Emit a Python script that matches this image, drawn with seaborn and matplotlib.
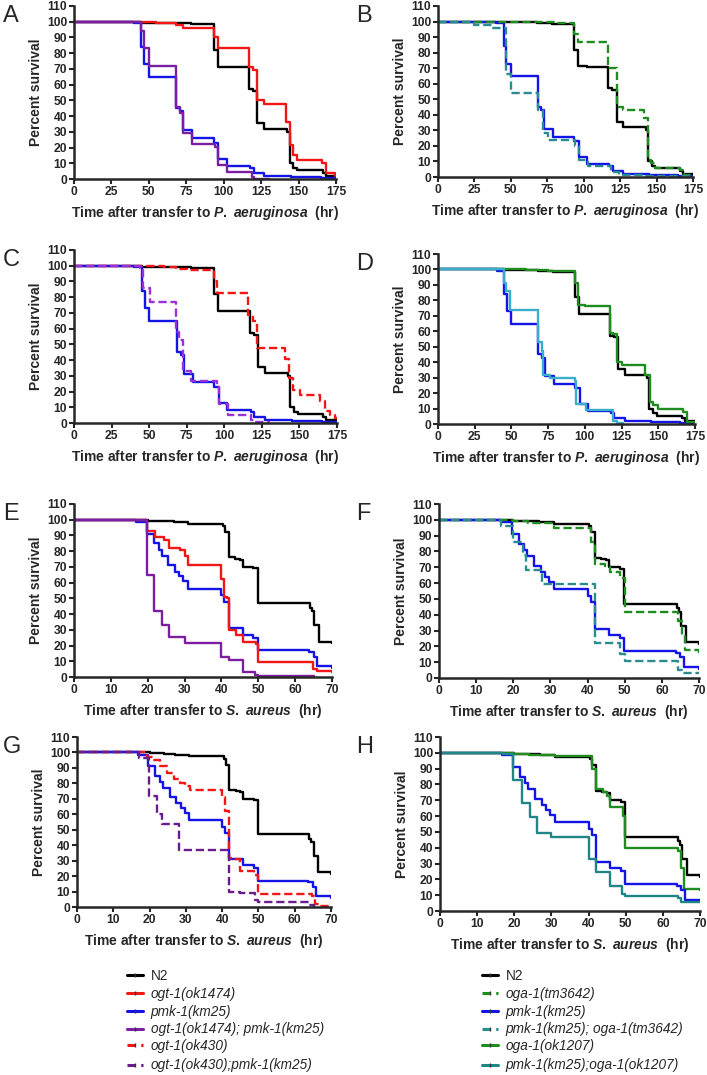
import matplotlib
matplotlib.use("Agg")
import matplotlib.pyplot as plt
import seaborn as sns
from matplotlib.lines import Line2D

# ---- P. aeruginosa survival curves (time in hr, percent survival) ----
n2_pa_t = [0, 45, 68, 78, 93.4, 96, 102, 117, 119.6, 122.5, 127, 142.6, 144, 146.6, 149, 166, 168, 175]
n2_pa_s = [100, 99.5, 99, 98.5, 82, 71.5, 71, 57, 56, 35.5, 32, 30, 10, 7, 5.5, 4, 2, 1]

pmk_pa_t = [0, 40, 45, 47, 50, 68.4, 71, 73, 79, 93.4, 96.5, 102, 117.5, 120, 127, 145, 165, 175]
pmk_pa_s = [100, 99, 84, 73, 65, 45, 43, 31, 26, 23, 13, 8.5, 7, 4, 2, 1, 0.5, 0]

ogt1474_pa_t = [0, 55, 68, 73, 93.4, 96, 117, 119.6, 122, 127, 141.4, 144, 146.6, 149, 165.5, 168, 174, 175]
ogt1474_pa_s = [100, 99.5, 98, 96, 90, 83.5, 71, 69, 50, 48, 36, 21.5, 15, 12, 10, 3.5, 2, 2]

ogt1474_pmk_pa_t = [0, 45, 47, 50, 68, 71, 73, 79, 94, 96, 102, 119, 120.5, 130]
ogt1474_pmk_pa_s = [100, 94, 83, 72, 46, 42, 29, 22, 20.5, 9, 4.5, 1, 0, 0]

ogatm_pa_t = [0, 60, 80, 93.6, 96, 117, 122.5, 127, 141.5, 144, 146, 149, 166, 169, 175]
ogatm_pa_s = [100, 99.5, 99, 92, 87, 70, 45, 43, 38, 11, 9, 6, 4.5, 1, 0.5]

pmk_ogatm_pa_t = [0, 25, 37, 46.5, 50, 68.6, 72, 75.5, 94, 96.5, 103, 119, 124, 142, 175]
pmk_ogatm_pa_s = [100, 97.5, 96, 66, 54, 43, 28, 23.5, 20, 11, 7, 3, 1, 0.5, 0]

ogt430_pa_t = [0, 60, 68, 75, 93, 95, 116, 119, 121.7, 140.6, 142.8, 146, 150.6, 164, 167, 170.5, 174, 175]
ogt430_pa_s = [100, 99.5, 98, 97, 90, 82.5, 68.5, 65, 48, 41, 28.5, 21, 18, 14, 7.5, 5, 3, 3]

ogt430_pmk_pa_t = [0, 44, 46, 50.6, 68, 70, 72.8, 78, 95, 96.8, 102.8, 118, 120.6, 130]
ogt430_pmk_pa_s = [100, 98.5, 86, 77, 58, 53, 33, 26.5, 23, 12, 5.3, 2, 0.5, 0]

ogaok_pa_t = [0, 60, 75, 93.2, 95.5, 100, 117, 119.3, 121.6, 125, 141, 144.3, 146.6, 150, 167, 169.3, 175]
ogaok_pa_s = [100, 99.5, 99, 91, 77, 76.3, 59, 58, 40, 38, 31.5, 14, 12, 10, 8, 1, 0.5]

pmk_ogaok_pa_t = [0, 44.8, 46.6, 49, 68.2, 70.5, 71.6, 76, 93.2, 94.3, 101, 119.3, 121.6, 126]
pmk_ogaok_pa_s = [100, 91, 86, 74, 53, 47, 31.5, 29.5, 28, 13, 9, 2, 0.5, 0]

# ---- S. aureus survival curves ----
n2_sa_t = [0, 20, 24, 27, 31, 40.4, 41, 42, 43.7, 45, 45.8, 48.7, 49.8, 64, 64.6, 65.2, 66.4, 70]
n2_sa_s = [100, 99.5, 99, 98.5, 97.5, 96, 92, 76, 75, 74.5, 70, 69, 47, 44, 42, 33, 22.5, 21.5]

pmk_sa_t = [0, 16.8, 19.7, 21.6, 23, 23.8, 25.6, 27.4, 28.6, 29.7, 30.9, 40, 40.8, 42, 45.8, 48.7, 49.8, 63.7, 65, 66, 70]
pmk_sa_s = [100, 98.5, 91, 85, 81, 77, 71, 67, 64, 61, 56, 52, 48, 31, 27, 25, 17, 16, 13, 7, 6]

ogt1474_sa_t = [0, 19.7, 22, 24.3, 25.9, 28.8, 30, 31, 40, 40.8, 41.5, 42, 44, 45.8, 49.5, 49.8, 64.9, 66, 70]
ogt1474_sa_s = [100, 93, 89, 87, 82, 81, 77, 71.5, 62, 51, 50, 30, 27, 22, 21, 9.5, 5, 3.5, 3]

ogt1474_pmk_sa_t = [0, 19.7, 21.7, 23.8, 25.9, 30, 40, 42, 45.8, 49.2, 50, 65]
ogt1474_pmk_sa_s = [100, 65, 42, 33, 25.5, 21.5, 12.5, 11, 3, 1, 0.5, 0]

ogatm_sa_t = [0, 20, 24, 31, 41, 42, 44.6, 46, 48.7, 50, 64.4, 65.3, 66.2, 70]
ogatm_sa_s = [100, 99, 98, 95, 86, 72, 70.5, 67, 63, 41.5, 36, 27, 18, 16]

pmk_ogatm_sa_t = [0, 16.8, 20, 22.6, 23.5, 27.6, 42, 48.7, 50, 64.4, 65.3, 70]
pmk_ogatm_sa_s = [100, 96, 86, 78, 68, 59.5, 22, 15, 11, 5, 3, 3]

ogt430_sa_t = [0, 19.3, 21, 23, 24.8, 26.6, 28.5, 29.9, 31.2, 40, 40.9, 41.9, 43.6, 45, 48.7, 49.9, 64.8, 65.7, 66.6, 70]
ogt430_sa_s = [100, 97, 95, 91, 87, 83, 80, 78, 76, 71, 62, 32, 31, 23, 21, 8.5, 7, 2, 0.5, 0]

ogt430_pmk_sa_t = [0, 17, 19.8, 22, 23.4, 28, 41.8, 45, 49, 50, 63.8, 65.2]
ogt430_pmk_sa_s = [100, 96.5, 72, 60, 54, 37, 10, 9, 4.3, 3.5, 1, 0]

ogaok_sa_t = [0, 20, 24, 31, 40.8, 42, 44, 44.9, 45.8, 49.4, 49.8, 64.2, 65, 65.8, 70]
ogaok_sa_s = [100, 99, 98.5, 98, 90, 77, 75, 73, 65.5, 60, 40, 38, 27, 14, 13]

pmk_ogaok_sa_t = [0, 17, 19.7, 22, 24.2, 26, 30, 40, 42, 45.8, 48.9, 49.8, 64.2, 65, 70]
pmk_ogaok_sa_s = [100, 99, 83, 68.5, 59.5, 49.5, 46.5, 33, 24.5, 16, 10.5, 9.5, 8, 5.5, 5.5]

# legend labels
left_labels = ["N2", "ogt-1(ok1474)", "pmk-1(km25)", "ogt-1(ok1474); pmk-1(km25)",
               "ogt-1(ok430)", "ogt-1(ok430);pmk-1(km25)"]
right_labels = ["N2", "oga-1(tm3642)", "pmk-1(km25)", "pmk-1(km25); oga-1(tm3642)",
                "oga-1(ok1207)", "pmk-1(km25);oga-1(ok1207)"]

BLACK, RED, BLUE = "#000000", "#f21616", "#1414e6"
PURPLE, VIOLET, DPURPLE = "#7b1fa2", "#9b30d8", "#6a1b8c"
GREEN, TEAL, CYAN, DTEAL = "#1e8c1e", "#2a8c8c", "#3aaccc", "#1f8585"
SOLID, DASH = "-", (0, (3.5, 1.6))

sns.set_style("ticks")
plt.rcParams["font.family"] = ["Liberation Sans", "DejaVu Sans"]
plt.rcParams["mathtext.fontset"] = "custom"
plt.rcParams["mathtext.it"] = "Liberation Sans:italic:bold"
plt.rcParams["mathtext.rm"] = "Liberation Sans:bold"

W, H = 707, 1075
fig = plt.figure(figsize=(W / 100, H / 100), dpi=100)


def add_ax(left, top, right, bottom):
    return fig.add_axes([left / W, 1 - bottom / H, (right - left) / W, (bottom - top) / H])


pa_label = r"Time after transfer to $P.$ $aeruginosa$  (hr)"
sa_label = r"Time after transfer to $S.$ $aureus$  (hr)"

panels = [
    ("A", (74, 6, 336, 179), 175, 25, pa_label,
     [(n2_pa_t, n2_pa_s, BLACK, SOLID), (ogt1474_pa_t, ogt1474_pa_s, RED, SOLID),
      (pmk_pa_t, pmk_pa_s, BLUE, SOLID), (ogt1474_pmk_pa_t, ogt1474_pmk_pa_s, PURPLE, SOLID)]),
    ("B", (438, 6, 693, 177), 175, 25, pa_label,
     [(n2_pa_t, n2_pa_s, BLACK, SOLID), (pmk_pa_t, pmk_pa_s, BLUE, SOLID),
      (ogatm_pa_t, ogatm_pa_s, GREEN, DASH), (pmk_ogatm_pa_t, pmk_ogatm_pa_s, TEAL, DASH)]),
    ("C", (74, 250, 337, 423), 175, 25, pa_label,
     [(n2_pa_t, n2_pa_s, BLACK, SOLID), (pmk_pa_t, pmk_pa_s, BLUE, SOLID),
      (ogt430_pa_t, ogt430_pa_s, RED, DASH), (ogt430_pmk_pa_t, ogt430_pmk_pa_s, VIOLET, DASH)]),
    ("D", (438, 254, 695, 424), 175, 25, pa_label,
     [(n2_pa_t, n2_pa_s, BLACK, SOLID), (pmk_pa_t, pmk_pa_s, BLUE, SOLID),
      (ogaok_pa_t, ogaok_pa_s, GREEN, SOLID), (pmk_ogaok_pa_t, pmk_ogaok_pa_s, CYAN, SOLID)]),
    ("E", (74, 504, 332, 677), 70, 10, sa_label,
     [(n2_sa_t, n2_sa_s, BLACK, SOLID), (pmk_sa_t, pmk_sa_s, BLUE, SOLID),
      (ogt1474_sa_t, ogt1474_sa_s, RED, SOLID), (ogt1474_pmk_sa_t, ogt1474_pmk_sa_s, PURPLE, SOLID)]),
    ("F", (439, 504, 699, 678), 70, 10, sa_label,
     [(n2_sa_t, n2_sa_s, BLACK, SOLID), (pmk_sa_t, pmk_sa_s, BLUE, SOLID),
      (ogatm_sa_t, ogatm_sa_s, GREEN, DASH), (pmk_ogatm_sa_t, pmk_ogatm_sa_s, TEAL, DASH)]),
    ("G", (77, 737, 331, 907), 70, 10, sa_label,
     [(n2_sa_t, n2_sa_s, BLACK, SOLID), (pmk_sa_t, pmk_sa_s, BLUE, SOLID),
      (ogt430_sa_t, ogt430_sa_s, RED, DASH), (ogt430_pmk_sa_t, ogt430_pmk_sa_s, DPURPLE, DASH)]),
    ("H", (440, 737, 700, 911), 70, 10, sa_label,
     [(n2_sa_t, n2_sa_s, BLACK, SOLID), (ogaok_sa_t, ogaok_sa_s, GREEN, SOLID),
      (pmk_sa_t, pmk_sa_s, BLUE, SOLID), (pmk_ogaok_sa_t, pmk_ogaok_sa_s, DTEAL, SOLID)]),
]

for letter, box, xmax, xstep, xlabel, curves in panels:
    ax = add_ax(*box)
    for t, s, c, ls in curves:
        sns.lineplot(x=t, y=s, ax=ax, color=c, linestyle=ls, lw=1.7,
                     drawstyle="steps-post", estimator=None, sort=False, legend=False)
    ax.set_xlim(0, xmax)
    ax.set_ylim(0, 110)
    ax.set_xticks(range(0, xmax + 1, xstep))
    ax.set_yticks(range(0, 111, 10))
    for lab in ax.get_xticklabels() + ax.get_yticklabels():
        lab.set_fontweight("bold")
    ax.tick_params(labelsize=8.7, width=1.5, length=3.5, pad=1.5)
    for sp in ("left", "bottom"):
        ax.spines[sp].set_linewidth(1.8)
    sns.despine(ax=ax)
    ax.set_xlabel(xlabel, fontsize=10, fontweight="bold", labelpad=4.5)
    ax.set_ylabel("Percent survival", fontsize=10, fontweight="bold", labelpad=3)
    lx = 3 if box[0] < 200 else 356
    fig.text(lx / W, 1 - (box[1] - 1) / H, letter, fontsize=17, ha="left", va="top")


def handle(c, ls):
    return Line2D([], [], color=c, lw=2.2, linestyle=ls, marker="|",
                  markersize=3, markeredgewidth=1, markeredgecolor="#333333")


left_handles = [handle(BLACK, SOLID), handle(RED, SOLID), handle(BLUE, SOLID),
                handle(PURPLE, SOLID), handle(RED, (0, (2.5, 2))), handle(DPURPLE, (0, (2.5, 2)))]
right_handles = [handle(BLACK, SOLID), handle(GREEN, (0, (2.5, 2))), handle(BLUE, SOLID),
                 handle(TEAL, (0, (2.5, 2))), handle(GREEN, SOLID), handle(DTEAL, SOLID)]


def add_legend(handles, labels, x_px, y_px, spacing):
    leg = fig.legend(handles, labels, loc="upper left", bbox_to_anchor=(x_px / W, 1 - y_px / H),
                     frameon=False, fontsize=9.8, handlelength=1.2, handletextpad=0.55,
                     labelspacing=spacing, borderpad=0, borderaxespad=0)
    for txt in leg.get_texts():
        if txt.get_text() != "N2":
            txt.set_fontstyle("italic")
    return leg


add_legend(left_handles[:4], left_labels[:4], 127, 969, 0.28)
add_legend(left_handles[4:], left_labels[4:], 127, 1039, 0.4)
add_legend(right_handles[:4], right_labels[:4], 482, 969, 0.28)
add_legend(right_handles[4:], right_labels[4:], 482, 1039, 0.4)

fig.savefig("out.png", dpi=100)
